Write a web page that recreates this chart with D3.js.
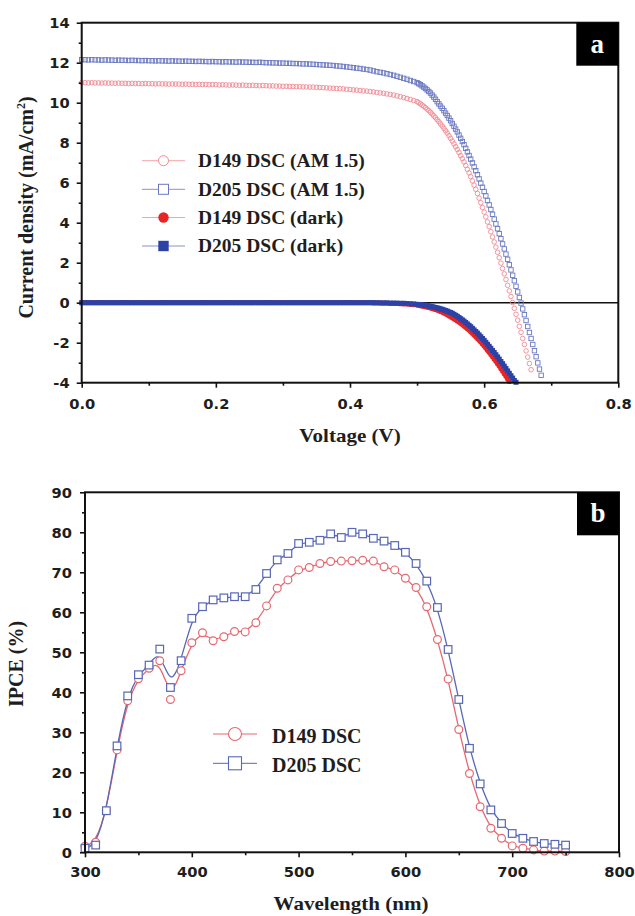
<!DOCTYPE html>
<html lang="en">
<head>
<meta charset="UTF-8">
<title>J-V curves and IPCE spectra</title>
<script src="https://cdn.jsdelivr.net/npm/d3@7"></script>
<style>
    body { margin: 0; background: #fff; }
    .tick text { font-family: "DejaVu Sans", Arial, sans-serif; font-weight: bold; font-size: 14.7px; fill: #1e1e1e; }
    .ttl { font-family: "Liberation Serif", "Times New Roman", serif; font-weight: bold; fill: #1e1e1e; }
</style>
</head>
<body>
<svg id="fig" width="635" height="916"></svg>
<script>

// ---- panel a : J-V data (V in volts, J in mA/cm2) ----
const voltage = [
    0, 0.005, 0.01, 0.015, 0.02, 0.025, 0.03, 0.035, 0.04, 0.045,
    0.05, 0.055, 0.06, 0.065, 0.07, 0.075, 0.08, 0.085, 0.09, 0.095,
    0.1, 0.105, 0.11, 0.115, 0.12, 0.125, 0.13, 0.135, 0.14, 0.145,
    0.15, 0.155, 0.16, 0.165, 0.17, 0.175, 0.18, 0.185, 0.19, 0.195,
    0.2, 0.205, 0.21, 0.215, 0.22, 0.225, 0.23, 0.235, 0.24, 0.245,
    0.25, 0.255, 0.26, 0.265, 0.27, 0.275, 0.28, 0.285, 0.29, 0.295,
    0.3, 0.305, 0.31, 0.315, 0.32, 0.325, 0.33, 0.335, 0.34, 0.345,
    0.35, 0.355, 0.36, 0.365, 0.37, 0.375, 0.38, 0.385, 0.39, 0.395,
    0.4, 0.405, 0.41, 0.415, 0.42, 0.425, 0.43, 0.435, 0.44, 0.445,
    0.45, 0.455, 0.46, 0.465, 0.47, 0.475, 0.48, 0.485, 0.49, 0.495,
    0.5,
    0.5025, 0.505, 0.5075, 0.51,
    0.5125, 0.515, 0.5175, 0.52,
    0.5225, 0.525, 0.5275, 0.53,
    0.5325, 0.535, 0.5375, 0.54,
    0.5425, 0.545, 0.5475, 0.55,
    0.5525, 0.555, 0.5575, 0.56,
    0.5625, 0.565, 0.5675, 0.57,
    0.5725, 0.575, 0.5775, 0.58,
    0.5825, 0.585, 0.5875, 0.59,
    0.5925, 0.595, 0.5975, 0.6,
    0.6025, 0.605, 0.6075, 0.61,
    0.6125, 0.615, 0.6175, 0.62,
    0.6225, 0.625, 0.6275, 0.63,
    0.6325, 0.635, 0.6375, 0.64,
    0.6425, 0.645, 0.6475, 0.65,
    0.6525, 0.655, 0.6575, 0.66,
    0.6625, 0.665, 0.6675, 0.67,
    0.6725, 0.675, 0.6775, 0.68,
    0.6825, 0.685
];

const d149Light = [
    11.00, 11.00, 10.99, 11.00, 10.99, 10.99, 10.98, 10.99, 10.98, 10.98,
    10.97, 10.98, 10.97, 10.97, 10.96, 10.97, 10.96, 10.96, 10.95, 10.96,
    10.95, 10.95, 10.94, 10.95, 10.94, 10.94, 10.93, 10.94, 10.93, 10.93,
    10.92, 10.93, 10.92, 10.92, 10.91, 10.92, 10.91, 10.91, 10.90, 10.91,
    10.90, 10.89, 10.90, 10.89, 10.88, 10.89, 10.88, 10.87, 10.88, 10.87,
    10.86, 10.87, 10.86, 10.85, 10.86, 10.85, 10.84, 10.84, 10.83, 10.83,
    10.82, 10.82, 10.81, 10.81, 10.80, 10.80, 10.79, 10.79, 10.78, 10.78,
    10.77, 10.76, 10.75, 10.74, 10.73, 10.72, 10.71, 10.70, 10.69, 10.67,
    10.66, 10.64, 10.63, 10.61, 10.59, 10.58, 10.56, 10.54, 10.51, 10.49,
    10.47, 10.44, 10.41, 10.38, 10.34, 10.30, 10.26, 10.21, 10.16, 10.11,
    10.05,
    10.00, 9.94, 9.88, 9.82,
    9.75, 9.68, 9.60, 9.52,
    9.43, 9.34, 9.25, 9.15,
    9.05, 8.94, 8.83, 8.72,
    8.60, 8.48, 8.35, 8.22,
    8.08, 7.94, 7.80, 7.66,
    7.51, 7.35, 7.20, 7.04,
    6.86, 6.67, 6.49, 6.30,
    6.09, 5.88, 5.67, 5.46,
    5.23, 5.00, 4.76, 4.53,
    4.29, 4.04, 3.80, 3.55,
    3.29, 3.04, 2.78, 2.52,
    2.25, 1.98, 1.71, 1.44,
    1.16, 0.87, 0.59, 0.31,
    0.01, -0.28, -0.58, -0.87,
    -1.18, -1.48, -1.79, -2.09,
    -2.41, -2.72, -3.04, -3.35
];

const d205Light = [
    12.15, 12.15, 12.14, 12.15, 12.14, 12.14, 12.13, 12.14, 12.13, 12.13,
    12.12, 12.13, 12.12, 12.12, 12.11, 12.12, 12.11, 12.11, 12.10, 12.11,
    12.10, 12.10, 12.09, 12.10, 12.09, 12.09, 12.08, 12.09, 12.08, 12.08,
    12.07, 12.08, 12.07, 12.07, 12.06, 12.07, 12.06, 12.06, 12.05, 12.06,
    12.05, 12.05, 12.04, 12.05, 12.04, 12.04, 12.03, 12.04, 12.03, 12.03,
    12.02, 12.02, 12.01, 12.02, 12.01, 12.00, 12.00, 11.99, 11.99, 11.98,
    11.98, 11.97, 11.97, 11.96, 11.96, 11.95, 11.94, 11.94, 11.93, 11.92,
    11.91, 11.90, 11.89, 11.88, 11.87, 11.86, 11.84, 11.83, 11.81, 11.79,
    11.77, 11.75, 11.73, 11.71, 11.68, 11.66, 11.63, 11.59, 11.55, 11.52,
    11.49, 11.45, 11.41, 11.37, 11.32, 11.27, 11.22, 11.17, 11.11, 11.06,
    11.00,
    10.95, 10.90, 10.84, 10.78,
    10.71, 10.64, 10.56, 10.48,
    10.38, 10.28, 10.17, 10.05,
    9.94, 9.83, 9.72, 9.60,
    9.48, 9.36, 9.23, 9.10,
    8.96, 8.82, 8.68, 8.54,
    8.38, 8.22, 8.06, 7.90,
    7.72, 7.54, 7.36, 7.18,
    6.99, 6.79, 6.60, 6.40,
    6.19, 5.98, 5.77, 5.56,
    5.34, 5.11, 4.89, 4.66,
    4.42, 4.18, 3.94, 3.70,
    3.45, 3.20, 2.94, 2.69,
    2.43, 2.17, 1.90, 1.64,
    1.37, 1.10, 0.82, 0.54,
    0.26, -0.02, -0.31, -0.60,
    -0.89, -1.19, -1.49, -1.79,
    -2.09, -2.40, -2.70, -3.01,
    -3.32, -3.63
];

const d149Dark = [
    0, 0, 0, 0, 0, 0, 0, 0, 0, 0,
    0, 0, 0, 0, 0, 0, 0, 0, 0, 0,
    0, 0, 0, 0, 0, 0, 0, 0, 0, 0,
    0, 0, 0, 0, 0, 0, 0, 0, 0, 0,
    0, 0, 0, 0, 0, 0, 0, 0, 0, 0,
    0, 0, 0, 0, 0, 0, 0, 0, 0, 0,
    0, 0, 0, 0, 0, 0, 0, 0, 0, 0,
    0, 0, 0, 0, 0, 0, 0, 0, 0, 0,
    0, 0, 0, 0, 0, 0, 0, -0.01, -0.01, -0.01,
    -0.02, -0.02, -0.03, -0.03, -0.04, -0.05, -0.06, -0.07, -0.09, -0.10,
    -0.12,
    -0.13, -0.15, -0.16, -0.18,
    -0.20, -0.22, -0.24, -0.26,
    -0.29, -0.31, -0.34, -0.37,
    -0.40, -0.44, -0.47, -0.51,
    -0.55, -0.60, -0.65, -0.70,
    -0.75, -0.80, -0.85, -0.91,
    -0.97, -1.03, -1.09, -1.16,
    -1.23, -1.30, -1.37, -1.45,
    -1.53, -1.61, -1.70, -1.79,
    -1.88, -1.97, -2.07, -2.17,
    -2.27, -2.38, -2.48, -2.59,
    -2.70, -2.82, -2.93, -3.05,
    -3.17, -3.30, -3.42, -3.55,
    -3.68, -3.81, -3.94
];

const d205Dark = [
    0, 0, 0, 0, 0, 0, 0, 0, 0, 0,
    0, 0, 0, 0, 0, 0, 0, 0, 0, 0,
    0, 0, 0, 0, 0, 0, 0, 0, 0, 0,
    0, 0, 0, 0, 0, 0, 0, 0, 0, 0,
    0, 0, 0, 0, 0, 0, 0, 0, 0, 0,
    0, 0, 0, 0, 0, 0, 0, 0, 0, 0,
    0, 0, 0, 0, 0, 0, 0, 0, 0, 0,
    0, 0, 0, 0, 0, 0, 0, 0, 0, 0,
    0, 0, 0, 0, 0, 0, 0, 0, 0, -0.01,
    -0.01, -0.01, -0.02, -0.02, -0.02, -0.03, -0.03, -0.04, -0.05, -0.06,
    -0.08,
    -0.09, -0.10, -0.11, -0.12,
    -0.13, -0.15, -0.16, -0.18,
    -0.20, -0.22, -0.24, -0.26,
    -0.28, -0.31, -0.33, -0.36,
    -0.39, -0.42, -0.46, -0.49,
    -0.53, -0.58, -0.63, -0.68,
    -0.74, -0.80, -0.86, -0.92,
    -0.99, -1.06, -1.13, -1.20,
    -1.28, -1.36, -1.44, -1.52,
    -1.61, -1.70, -1.79, -1.88,
    -1.98, -2.08, -2.18, -2.28,
    -2.39, -2.49, -2.60, -2.71,
    -2.82, -2.94, -3.05, -3.17,
    -3.29, -3.41, -3.53, -3.65,
    -3.77, -3.89, -3.98
];

const jvLegend = ["D149 DSC (AM 1.5)", "D205 DSC (AM 1.5)", "D149 DSC (dark)", "D205 DSC (dark)"];
const jvXTicks = [0, 0.2, 0.4, 0.6, 0.8];
const jvXMinor = [0.1, 0.3, 0.5, 0.7];
const jvYTicks = [-4, -2, 0, 2, 4, 6, 8, 10, 12, 14];
const jvYMinor = [-3, -1, 1, 3, 5, 7, 9, 11, 13];

// ---- panel b : IPCE data ----
const wavelength = [
    300, 310, 320, 330, 340, 350, 360, 370, 380, 390,
    400, 410, 420, 430, 440, 450, 460, 470, 480, 490,
    500, 510, 520, 530, 540, 550, 560, 570, 580, 590,
    600, 610, 620, 630, 640, 650, 660, 670, 680, 690,
    700, 710, 720, 730, 740, 750
];
const ipceD149 = [
    1.5, 2.5, 10.4, 25.6, 37.9, 43.4, 46.0, 47.9, 38.2, 45.4,
    52.4, 54.9, 52.9, 53.9, 55.2, 55.1, 57.4, 61.6, 66.0, 68.1,
    70.6, 71.2, 72.2, 72.7, 72.8, 72.9, 73.0, 72.8, 71.4, 70.6,
    68.5, 66.2, 61.4, 53.2, 43.3, 30.7, 19.7, 11.4, 6.0, 3.5,
    1.6, 1.0, 0.6, 0.3, 0.3, 0.2
];
const ipceD205 = [
    1.0, 1.8, 10.4, 26.6, 39.1, 44.4, 46.8, 50.8, 41.2, 47.9,
    58.5, 61.4, 63.1, 63.6, 63.9, 63.9, 65.7, 69.7, 73.1, 74.7,
    77.2, 77.5, 78.0, 79.6, 78.7, 80.0, 79.6, 78.5, 77.8, 76.7,
    75.0, 72.2, 67.8, 61.2, 50.7, 38.2, 26.0, 17.1, 10.6, 7.2,
    4.7, 3.5, 2.7, 2.2, 2.0, 1.8
];
const ipceLegend = ["D149 DSC", "D205 DSC"];
const ipceXTicks = [300, 400, 500, 600, 700, 800];
const ipceXMinor = [350, 450, 550, 650, 750];
const ipceYTicks = [0, 10, 20, 30, 40, 50, 60, 70, 80, 90];
const ipceYMinor = [5, 15, 25, 35, 45, 55, 65, 75, 85];

const svg = d3.select("#fig");

function drawFrame(g, x, y, opt) {
    const [x0, x1] = x.range();
    const [y0, y1] = y.range();

    const xa = g.append("g").attr("transform", `translate(0,${y0})`)
        .call(d3.axisBottom(x).tickValues(opt.xTicks).tickSize(5).tickPadding(opt.xPad).tickFormat(opt.xFmt));
    const xm = g.append("g").attr("transform", `translate(0,${y0})`)
        .call(d3.axisBottom(x).tickValues(opt.xMinor).tickSize(3).tickFormat(""));
    const ya = g.append("g").attr("transform", `translate(${x0},0)`)
        .call(d3.axisLeft(y).tickValues(opt.yTicks).tickSize(5).tickPadding(opt.yPad).tickFormat(d => String(d)));
    const ym = g.append("g").attr("transform", `translate(${x0},0)`)
        .call(d3.axisLeft(y).tickValues(opt.yMinor).tickSize(3).tickFormat(""));

    [xa, xm, ya, ym].forEach(a => {
        a.select(".domain").remove();
        a.selectAll(".tick line").attr("stroke", "#111").attr("stroke-width", 1.6);
        a.attr("font-family", null).attr("font-size", null);
    });

    g.append("rect")
        .attr("x", x0).attr("y", y1)
        .attr("width", x1 - x0).attr("height", y0 - y1)
        .attr("fill", "none").attr("stroke", "#111").attr("stroke-width", 2);

    // panel letter box
    g.append("rect")
        .attr("x", x1 - 42).attr("y", y1)
        .attr("width", 42).attr("height", 43)
        .attr("fill", "#000");
    g.append("text").attr("class", "ttl")
        .attr("x", x1 - 21).attr("y", y1 + 30)
        .attr("text-anchor", "middle")
        .attr("font-size", 27).attr("fill", "#fff")
        .style("fill", "#fff")
        .text(opt.letter);
}

// ================= panel a =================
{
    const x = d3.scaleLinear([0, 0.8], [81.7, 618.3]);
    const y = d3.scaleLinear([-4, 14], [382.7, 22.7]);
    const g = svg.append("g");

    // zero line
    g.append("line")
        .attr("x1", x(0)).attr("x2", x(0.8))
        .attr("y1", y(0)).attr("y2", y(0))
        .attr("stroke", "#111").attr("stroke-width", 1.6);

    const pts = s => s.map((j, i) => [voltage[i], j]);

    g.append("g").selectAll("circle").data(pts(d149Light)).join("circle")
        .attr("cx", d => x(d[0])).attr("cy", d => y(d[1])).attr("r", 2.3)
        .attr("fill", "none").attr("stroke", "#f08a94").attr("stroke-width", 0.9);

    g.append("g").selectAll("rect").data(pts(d205Light)).join("rect")
        .attr("x", d => x(d[0]) - 2.2).attr("y", d => y(d[1]) - 2.2)
        .attr("width", 4.4).attr("height", 4.4)
        .attr("fill", "none").attr("stroke", "#6a78c2").attr("stroke-width", 0.9);

    g.append("g").selectAll("circle").data(pts(d149Dark)).join("circle")
        .attr("cx", d => x(d[0])).attr("cy", d => y(d[1])).attr("r", 2.6)
        .attr("fill", "#e82424");

    g.append("g").selectAll("rect").data(pts(d205Dark)).join("rect")
        .attr("x", d => x(d[0]) - 2.5).attr("y", d => y(d[1]) - 2.5)
        .attr("width", 5).attr("height", 5)
        .attr("fill", "#2c42a6");

    drawFrame(g, x, y, {
        xTicks: jvXTicks, xMinor: jvXMinor, yTicks: jvYTicks, yMinor: jvYMinor,
        xFmt: d => d.toFixed(1), xPad: 11, yPad: 7, letter: "a"
    });

    // legend
    const lg = g.append("g");
    const rowY = [160.7, 189.3, 217.5, 246];
    const lineCol = ["#f3a4aa", "#8a92cc", "#f3a4aa", "#8a92cc"];
    jvLegend.forEach((lab, i) => {
        lg.append("line").attr("x1", 142).attr("x2", 185)
            .attr("y1", rowY[i]).attr("y2", rowY[i])
            .attr("stroke", lineCol[i]).attr("stroke-width", 1);
        if (i === 0) {
            lg.append("circle").attr("cx", 163.5).attr("cy", rowY[i]).attr("r", 5)
                .attr("fill", "#fff").attr("stroke", "#f08a94").attr("stroke-width", 1);
        } else if (i === 1) {
            lg.append("rect").attr("x", 158.5).attr("y", rowY[i] - 5).attr("width", 10).attr("height", 10)
                .attr("fill", "#fff").attr("stroke", "#6a78c2").attr("stroke-width", 1);
        } else if (i === 2) {
            lg.append("circle").attr("cx", 163.5).attr("cy", rowY[i]).attr("r", 5.2)
                .attr("fill", "#e82424");
        } else {
            lg.append("rect").attr("x", 158.3).attr("y", rowY[i] - 5.2).attr("width", 10.4).attr("height", 10.4)
                .attr("fill", "#2c42a6");
        }
        lg.append("text").attr("class", "ttl")
            .attr("x", 198).attr("y", rowY[i] + 6.2)
            .attr("font-size", 19.5)
            .text(lab);
    });

    // axis titles
    g.append("text").attr("class", "ttl")
        .attr("transform", "translate(350,441.7) scale(1.17,1)")
        .attr("text-anchor", "middle").attr("font-size", 18)
        .text("Voltage (V)");

    const yt = g.append("text").attr("class", "ttl")
        .attr("transform", "translate(33,207.5) scale(1.1,1) rotate(-90)")
        .attr("text-anchor", "middle").attr("font-size", 20);
    yt.append("tspan").text("Current density (mA/cm");
    yt.append("tspan").attr("dy", -7).attr("font-size", 12).text("2");
    yt.append("tspan").attr("dy", 7).text(")");
}

// ================= panel b =================
{
    const x = d3.scaleLinear([300, 800], [85, 619]);
    const y = d3.scaleLinear([0, 90], [852.3, 492.3]);
    const g = svg.append("g");

    const red = "#e56870";
    const blue = "#5867b6";

    const line = d3.line().x(d => x(d[0])).y(d => y(d[1])).curve(d3.curveBasis);
    const p149 = wavelength.map((w, i) => [w, ipceD149[i]]);
    const p205 = wavelength.map((w, i) => [w, ipceD205[i]]);

    g.append("path").attr("d", line(p149)).attr("fill", "none").attr("stroke", red).attr("stroke-width", 1.3);
    g.append("path").attr("d", line(p205)).attr("fill", "none").attr("stroke", blue).attr("stroke-width", 1.3);

    g.append("g").selectAll("circle").data(p149).join("circle")
        .attr("cx", d => x(d[0])).attr("cy", d => y(d[1])).attr("r", 3.9)
        .attr("fill", "#fff").attr("stroke", red).attr("stroke-width", 1.2);

    g.append("g").selectAll("rect").data(p205).join("rect")
        .attr("x", d => x(d[0]) - 3.8).attr("y", d => y(d[1]) - 3.8)
        .attr("width", 7.6).attr("height", 7.6)
        .attr("fill", "#fff").attr("stroke", blue).attr("stroke-width", 1.2);

    drawFrame(g, x, y, {
        xTicks: ipceXTicks, xMinor: ipceXMinor, yTicks: ipceYTicks, yMinor: ipceYMinor,
        xFmt: d => String(d), xPad: 9, yPad: 8, letter: "b"
    });

    // legend
    const rowY = [734, 763.3];
    const cols = [red, blue];
    ipceLegend.forEach((lab, i) => {
        g.append("line").attr("x1", 213).attr("x2", 257)
            .attr("y1", rowY[i]).attr("y2", rowY[i])
            .attr("stroke", cols[i]).attr("stroke-width", 1);
        if (i === 0) {
            g.append("circle").attr("cx", 235).attr("cy", rowY[i]).attr("r", 6.5)
                .attr("fill", "#fff").attr("stroke", red).attr("stroke-width", 1.1);
        } else {
            g.append("rect").attr("x", 228.5).attr("y", rowY[i] - 6.5).attr("width", 13).attr("height", 13)
                .attr("fill", "#fff").attr("stroke", blue).attr("stroke-width", 1.1);
        }
        g.append("text").attr("class", "ttl")
            .attr("x", 272).attr("y", rowY[i] + 9)
            .attr("font-size", 20)
            .text(lab);
    });

    g.append("text").attr("class", "ttl")
        .attr("transform", "translate(351,910) scale(1.17,1)")
        .attr("text-anchor", "middle").attr("font-size", 18)
        .text("Wavelength (nm)");

    g.append("text").attr("class", "ttl")
        .attr("transform", "translate(23,664) rotate(-90)")
        .attr("text-anchor", "middle").attr("font-size", 20)
        .text("IPCE (%)");
}

</script>
</body>
</html>
